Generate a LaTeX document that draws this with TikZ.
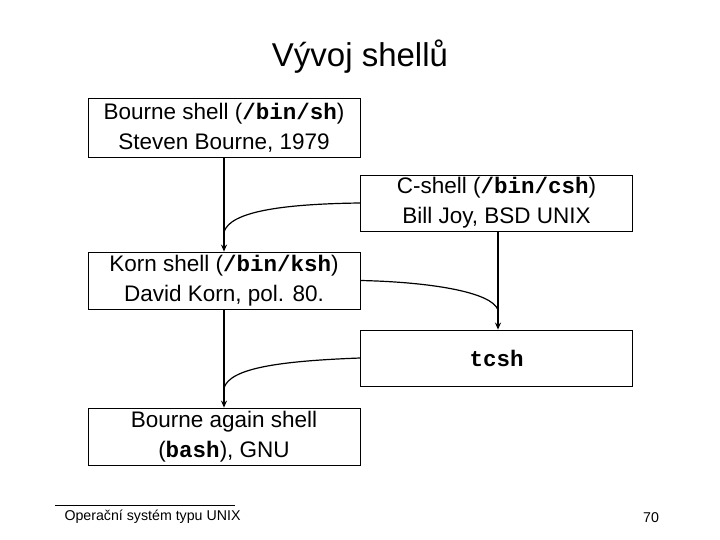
\documentclass[tikz,border=0pt]{standalone}
\usepackage{fontspec}
\setmainfont{Liberation Sans}
\setmonofont{Liberation Mono}
\usetikzlibrary{arrows.meta}
\newcommand{\mytt}[1]{\texttt{\bfseries #1}}
\begin{document}
\begin{tikzpicture}[x=1pt,y=-1pt,
  box/.style={draw,line width=0.8pt,minimum width=272pt,align=center,inner sep=0pt,font=\fontsize{22.5}{30}\selectfont},
  arr/.style={line width=1.2pt,-{Stealth[length=7pt,width=6pt]}},
  ln/.style={line width=1.2pt}]
\useasboundingbox (0,0) rectangle (720,540);
\node[font=\fontsize{33}{38}\selectfont] (title) at (360,57) {Vývoj shellů};
\node[box,minimum height=59pt] (b) at (224,127.5) {Bourne shell (\mytt{/bin/sh})\\Steven Bourne, 1979};
\node[box,minimum height=56pt] (c) at (496.5,203) {C-shell (\mytt{/bin/csh})\\Bill Joy, BSD UNIX};
\node[box,minimum height=57pt] (k) at (224,280.5) {Korn shell (\mytt{/bin/ksh})\\David Korn, pol. 80.};
\node[box,minimum height=56pt] (t) at (496.5,358) {\mytt{tcsh}};
\node[box,minimum height=57pt] (a) at (224,436.5) {Bourne again shell\\(\mytt{bash}), GNU};
\coordinate (m1) at (224,232);
\coordinate (m2) at (498,310);
\coordinate (m3) at (224,388);
\draw[arr] (b.south -| m1) -- (k.north -| m1);
\draw[ln] (c.west) .. controls (280,204) and (230,212) .. (m1);
\draw[arr] (c.south -| m2) -- (t.north -| m2);
\draw[ln] (k.east) .. controls (430,282) and (492,292) .. (m2);
\draw[arr] (k.south -| m3) -- (a.north -| m3);
\draw[ln] (t.west) .. controls (280,361) and (230,368) .. (m3);
\coordinate (f1) at (55,505);
\coordinate (f2) at (235,505);
\draw[line width=0.8pt] (f1) -- (f2);
\node[anchor=west,font=\fontsize{14.2}{16}\selectfont] (ft) at (61,517) {Operační systém typu UNIX};
\node[font=\fontsize{14.2}{16}\selectfont] (pg) at (651,518) {70};
\end{tikzpicture}
\end{document}
